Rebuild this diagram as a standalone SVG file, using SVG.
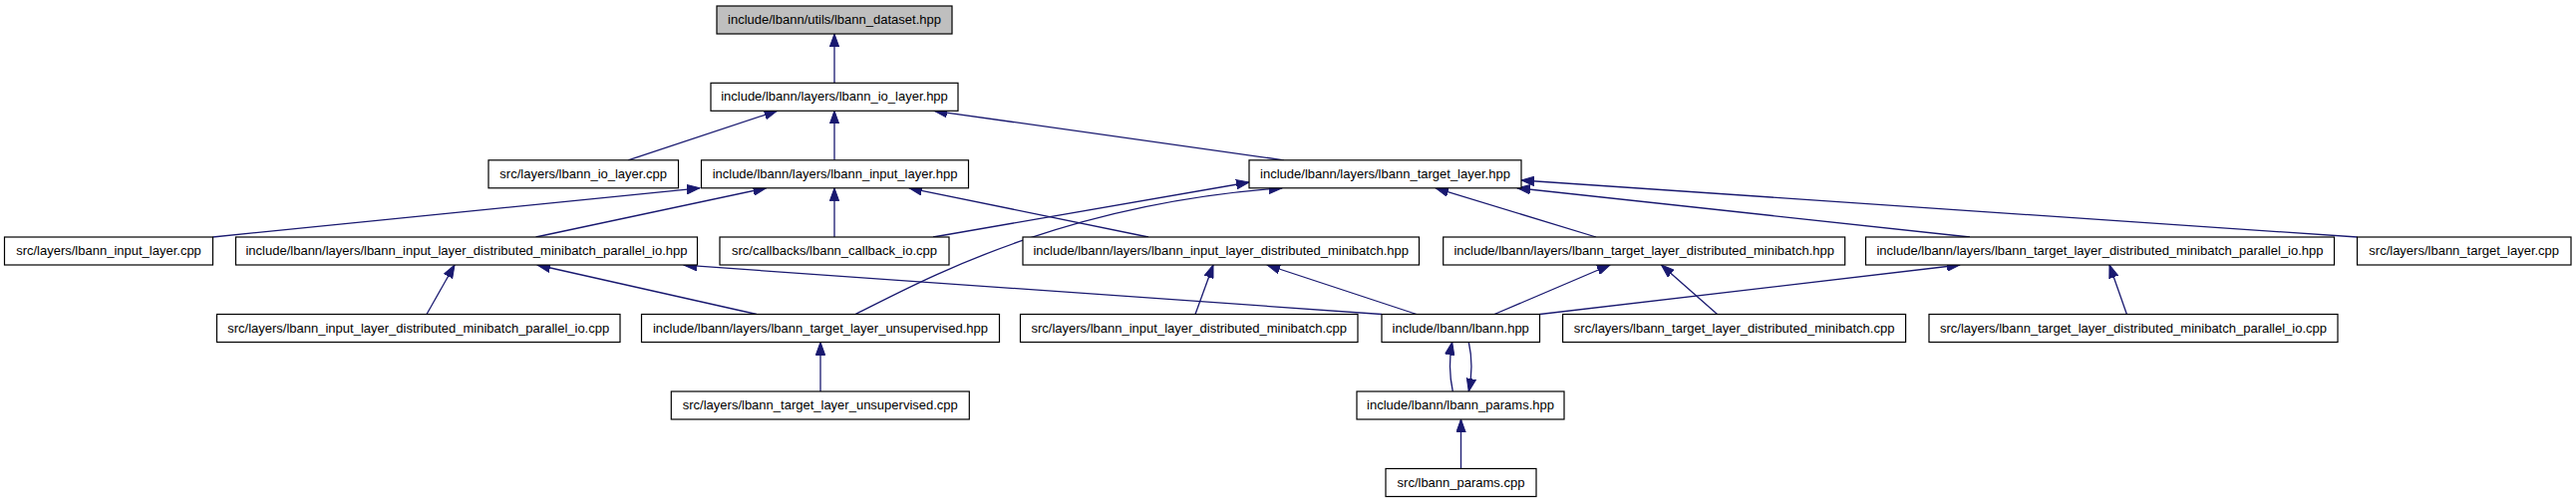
<svg xmlns="http://www.w3.org/2000/svg" width="2584" height="504" viewBox="0 0 2584 504">
<defs>
<style>
.n rect{fill:#ffffff;stroke:#000000;stroke-width:1.2}
.n.root rect{fill:#bfbfbf}
.n text{font-family:"Liberation Sans",Arial,Helvetica,sans-serif;font-size:13px;text-anchor:middle;fill:#000000}
#edges path{fill:none;stroke:#191970;stroke-width:1.3;marker-end:url(#arr)}
</style>
<marker id="arr" markerWidth="14" markerHeight="10" refX="13" refY="5" orient="auto" markerUnits="userSpaceOnUse">
<path d="M0,0.3 L13,5 L0,9.7 z" fill="#191970" stroke="#191970" stroke-width="1"/>
</marker>
</defs>
<rect x="0" y="0" width="2584" height="504" fill="#ffffff"/>
<g id="edges">
<path d="M837,83.3 L837,34"/>
<path d="M630,160.8 L779.5,111.3"/>
<path d="M837,160.8 L837,111.3"/>
<path d="M1288,160.8 L937,111.3"/>
<path d="M213.5,238 L702,188.8"/>
<path d="M537.5,238 L768.5,188.8"/>
<path d="M837,238 L837,188.8"/>
<path d="M1152,238 L912,188.8"/>
<path d="M936,238 L1253,183"/>
<path d="M858,315.5 C920,285 1060,205 1286,188.8"/>
<path d="M1601,238 L1440,188.8"/>
<path d="M1976,238 L1522,188.8"/>
<path d="M2364.5,238 L1526,181"/>
<path d="M428,315.5 L456,266"/>
<path d="M759,315.5 L539,266"/>
<path d="M1386,315.5 L686,266.2"/>
<path d="M823,393 L823,343.5"/>
<path d="M1199,315.5 L1217,266"/>
<path d="M1421,315.5 L1271,266"/>
<path d="M1499,315.5 L1615,266"/>
<path d="M1722.6,315.5 L1666.5,266"/>
<path d="M1544.5,315.5 L1966,266"/>
<path d="M2133.4,315.5 L2116,266"/>
<path d="M1457.3,393 C1453.5,375 1453.5,360 1456.7,343.5"/>
<path d="M1473.3,343.5 C1477,360 1477,375 1473.3,393"/>
<path d="M1465.5,470.5 L1465.5,421"/>
</g>
<g id="n_dataset_hpp" class="n root"><rect x="719" y="6" width="236" height="28"/><text x="837" y="24">include/lbann/utils/lbann_dataset.hpp</text></g>
<g id="n_io_layer_hpp" class="n"><rect x="713" y="83.3" width="248" height="28"/><text x="837" y="101.3">include/lbann/layers/lbann_io_layer.hpp</text></g>
<g id="n_io_layer_cpp" class="n"><rect x="490" y="160.8" width="190.5" height="28"/><text x="585.2" y="178.8">src/layers/lbann_io_layer.cpp</text></g>
<g id="n_input_layer_hpp" class="n"><rect x="703.5" y="160.8" width="268" height="28"/><text x="837.5" y="178.8">include/lbann/layers/lbann_input_layer.hpp</text></g>
<g id="n_target_layer_hpp" class="n"><rect x="1253" y="160.8" width="273" height="28"/><text x="1389.5" y="178.8">include/lbann/layers/lbann_target_layer.hpp</text></g>
<g id="n_input_layer_cpp" class="n"><rect x="4.5" y="238" width="209" height="28"/><text x="109" y="256">src/layers/lbann_input_layer.cpp</text></g>
<g id="n_input_dmpio_hpp" class="n"><rect x="236.5" y="238" width="463" height="28"/><text x="468" y="256">include/lbann/layers/lbann_input_layer_distributed_minibatch_parallel_io.hpp</text></g>
<g id="n_callback_io_cpp" class="n"><rect x="722" y="238" width="230" height="28"/><text x="837" y="256">src/callbacks/lbann_callback_io.cpp</text></g>
<g id="n_input_dm_hpp" class="n"><rect x="1026" y="238" width="397.5" height="28"/><text x="1224.7" y="256">include/lbann/layers/lbann_input_layer_distributed_minibatch.hpp</text></g>
<g id="n_target_dm_hpp" class="n"><rect x="1447.7" y="238" width="403" height="28"/><text x="1649.2" y="256">include/lbann/layers/lbann_target_layer_distributed_minibatch.hpp</text></g>
<g id="n_target_dmpio_hpp" class="n"><rect x="1871.5" y="238" width="470" height="28"/><text x="2106.5" y="256">include/lbann/layers/lbann_target_layer_distributed_minibatch_parallel_io.hpp</text></g>
<g id="n_target_layer_cpp" class="n"><rect x="2364.5" y="238" width="214.5" height="28"/><text x="2471.7" y="256">src/layers/lbann_target_layer.cpp</text></g>
<g id="n_input_dmpio_cpp" class="n"><rect x="217.5" y="315.5" width="404.5" height="28"/><text x="419.7" y="333.5">src/layers/lbann_input_layer_distributed_minibatch_parallel_io.cpp</text></g>
<g id="n_target_unsup_hpp" class="n"><rect x="643.5" y="315.5" width="359" height="28"/><text x="823" y="333.5">include/lbann/layers/lbann_target_layer_unsupervised.hpp</text></g>
<g id="n_input_dm_cpp" class="n"><rect x="1023.5" y="315.5" width="338.5" height="28"/><text x="1192.7" y="333.5">src/layers/lbann_input_layer_distributed_minibatch.cpp</text></g>
<g id="n_lbann_hpp" class="n"><rect x="1386" y="315.5" width="158.5" height="28"/><text x="1465.2" y="333.5">include/lbann/lbann.hpp</text></g>
<g id="n_target_dm_cpp" class="n"><rect x="1567.6" y="315.5" width="344" height="28"/><text x="1739.6" y="333.5">src/layers/lbann_target_layer_distributed_minibatch.cpp</text></g>
<g id="n_target_dmpio_cpp" class="n"><rect x="1935" y="315.5" width="410" height="28"/><text x="2140" y="333.5">src/layers/lbann_target_layer_distributed_minibatch_parallel_io.cpp</text></g>
<g id="n_target_unsup_cpp" class="n"><rect x="673.3" y="393" width="299" height="28"/><text x="822.8" y="411">src/layers/lbann_target_layer_unsupervised.cpp</text></g>
<g id="n_params_hpp" class="n"><rect x="1361" y="393" width="208" height="28"/><text x="1465" y="411">include/lbann/lbann_params.hpp</text></g>
<g id="n_params_cpp" class="n"><rect x="1390" y="470.5" width="151" height="28"/><text x="1465.5" y="488.5">src/lbann_params.cpp</text></g>
</svg>
